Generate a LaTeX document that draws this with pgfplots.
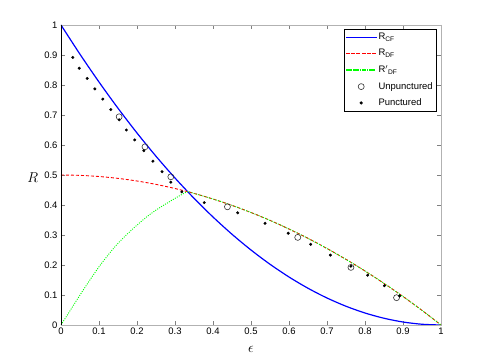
\documentclass[border=0pt]{standalone}
\usepackage{fontspec}
\setmainfont{Liberation Sans}
\usepackage{pgfplots}
\pgfplotsset{compat=1.18}

\begin{document}
\begin{tikzpicture}
\useasboundingbox (-61bp,-39bp) rectangle (424bp,325bp);
\begin{axis}[
    at={(0,0)}, anchor=south west,
    scale only axis,
    width=380bp, height=300bp,
    xmin=0, xmax=1, ymin=0, ymax=1,
    xtick={0,0.1,...,1}, ytick={0,0.1,...,1},
    tick align=inside,
    major tick length=4bp,
    axis line style={gray!60, line width=0.6pt},
    tick label style={font=\fontsize{9.5}{11}\selectfont},
    /pgf/number format/assume math mode=true,
    /pgf/number format/fixed,
    xticklabel style={yshift=1bp},
    xlabel={$\epsilon$},
    ylabel={$R$},
    xlabel style={font=\fontsize{14}{16}\selectfont, at={(axis description cs:0.5,-0.083)}, anchor=center},
    ylabel style={font=\fontsize{15}{17}\selectfont, rotate=-90, at={(axis description cs:-0.074,0.49)}, anchor=center},
    legend cell align=left,
    legend style={at={(0.9895,0.9867)}, anchor=north east, draw=black, line width=0.6pt,
        font=\fontsize{9.5}{11}\selectfont, inner sep=2bp, row sep=4bp},
    legend image code/.code={\draw[mark repeat=2,mark phase=2,#1] plot coordinates {(0cm,0cm)(0.53cm,0cm)(1.06cm,0cm)};},
]
\addlegendimage{legend image code/.code={\fill[blue] (0cm,-0.35pt) rectangle (1.06cm,0.35pt);}}
\addlegendentry{R\textsubscript{CF}}
\addlegendimage{legend image code/.code={\foreach \k in {0,...,5}{\fill[red] (\k*5.3bp,-0.3pt) rectangle ++(3bp,0.6pt);}}}
\addlegendentry{R\textsubscript{DF}}
\addlegendimage{legend image code/.code={\foreach \k in {0,...,12}{\fill[green] (\k*2.3bp,-0.3pt) rectangle ++(0.8bp,0.6pt);}}}
\addlegendentry{R$'$\textsubscript{DF}}
\addlegendimage{only marks, mark=o, mark size=3bp, black!80, mark options={line width=0.6pt}}
\addlegendentry{Unpunctured}
\addlegendimage{only marks, mark=*, mark size=1.3bp, black}
\addlegendentry{Punctured}
% R_CF
\addplot[blue, line width=1.2pt, smooth, forget plot] coordinates {
(0,1) (0.05,0.9025) (0.1,0.81) (0.15,0.7225) (0.2,0.64) (0.25,0.5625) (0.3,0.49)
(0.35,0.4225) (0.4,0.36) (0.45,0.3025) (0.5,0.25) (0.55,0.2025) (0.6,0.16)
(0.65,0.1225) (0.7,0.09) (0.75,0.0625) (0.8,0.04) (0.85,0.0225) (0.9,0.01)
(0.95,0.0025) (1,0)
};
% R_DF
\addplot[red, line width=0.9pt, dash pattern=on 3bp off 2bp, smooth, forget plot] coordinates {
(0,0.5) (0.05,0.49875) (0.1,0.495) (0.15,0.48875) (0.2,0.48) (0.25,0.46875) (0.3,0.455)
(0.35,0.43875) (0.4,0.42) (0.45,0.39875) (0.5,0.375) (0.55,0.34875) (0.6,0.32)
(0.65,0.28875) (0.7,0.255) (0.75,0.21875) (0.8,0.18) (0.85,0.13875) (0.9,0.095)
(0.95,0.04875) (1,0)
};
% R'_DF
\addplot[green, line width=0.9pt, dash pattern=on 1bp off 1.3bp, smooth, forget plot] coordinates {
(0,0) (0.025,0.05) (0.05,0.1) (0.075,0.148) (0.1,0.194) (0.125,0.235) (0.15,0.272)
(0.175,0.304) (0.2,0.333) (0.225,0.36) (0.25,0.383) (0.275,0.403) (0.3,0.422)
(0.325,0.44) (0.335,0.445) (0.35,0.43875) (0.4,0.42) (0.45,0.39875) (0.5,0.375)
(0.55,0.34875) (0.6,0.32) (0.65,0.28875) (0.7,0.255) (0.75,0.21875) (0.8,0.18)
(0.85,0.13875) (0.9,0.095) (0.95,0.04875) (1,0)
};
% Unpunctured
\addplot[only marks, mark=o, mark size=3bp, black!80, mark options={line width=0.6pt}, forget plot] coordinates {
(0.153,0.694) (0.221,0.594) (0.289,0.494) (0.438,0.394) (0.623,0.292) (0.763,0.192) (0.883,0.091)
};
% Punctured
\addplot[only marks, mark=*, mark size=1.3bp, black, forget plot] coordinates {
(0.031,0.892) (0.048,0.856) (0.069,0.822) (0.089,0.787) (0.110,0.753) (0.131,0.718)
(0.153,0.684) (0.172,0.650) (0.194,0.617) (0.218,0.581) (0.242,0.546) (0.266,0.511)
(0.289,0.476) (0.318,0.444) (0.377,0.408) (0.465,0.374) (0.537,0.339) (0.598,0.306)
(0.657,0.269) (0.709,0.233) (0.763,0.196) (0.807,0.166) (0.851,0.131) (0.891,0.097)
};
\draw[black, line width=0.6pt] (rel axis cs:0,1) -- (rel axis cs:0,0) -- (rel axis cs:1,0);
\end{axis}
\end{tikzpicture}
\end{document}
